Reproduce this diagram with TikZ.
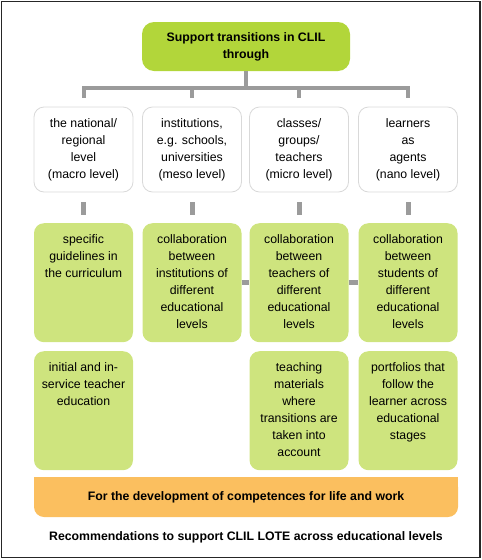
\documentclass[tikz,border=0pt]{standalone}
\usepackage{fontspec}
\setmainfont{Liberation Sans}

\definecolor{headgreen}{RGB}{178,214,58}
\definecolor{itemgreen}{RGB}{206,228,126}
\definecolor{goalorange}{RGB}{251,191,95}
\definecolor{linkgray}{RGB}{155,155,155}
\definecolor{levelborder}{RGB}{217,217,217}

% green boxes: text starts at the top
\newcommand{\toptext}[1]{\parbox[c][119pt][t]{99pt}{\centering\rule{0pt}{20.5pt}#1}}

\tikzset{
  txt/.style={font=\fontsize{12.3}{17}\selectfont},
  headbox/.style={txt, fill=headgreen, rounded corners=12pt, minimum width=208pt, minimum height=49pt, inner sep=0pt, align=center, font=\fontsize{12.3}{17}\selectfont\bfseries},
  levelbox/.style={txt, draw=levelborder, line width=0.8pt, fill=white, rounded corners=10pt, minimum width=99pt, minimum height=85pt, inner sep=0pt, align=center},
  itembox/.style={txt, fill=itemgreen, rounded corners=10pt, inner sep=0pt, anchor=north},
  linkline/.style={draw=linkgray, line width=4pt},
}

\begin{document}
\begin{tikzpicture}[x=1pt, y=-1pt]
            \useasboundingbox (0,0) rectangle (482,560);
            \draw [line width=1.2pt, black!85] (1.5,1.5) rectangle (480,557.5);

            % Heading
            \node[headbox] (head) at (246,46.5) {Support transitions in CLIL\\through};

            % Levels
            \node[levelbox] (macro) at (83.5,149.5) {the national/\\regional\\level\\(macro level)};
            \node[levelbox] (meso) at (192,149.5) {institutions,\\e.g. schools,\\universities\\(meso level)};
            \node[levelbox] (micro) at (299,149.5) {classes/\\groups/\\teachers\\(micro level)};
            \node[levelbox] (nano) at (408,149.5) {learners\\as\\agents\\(nano level)};

            % Recommendations, first row
            \node[itembox] (guide) at (83.5,223) {\toptext{specific\\guidelines in\\the curriculum}};
            \node[itembox] (instcol) at (192,223) {\toptext{collaboration\\between\\institutions of\\different\\educational\\levels}};
            \node[itembox] (teachcol) at (299,223) {\toptext{collaboration\\between\\teachers of\\different\\educational\\levels}};
            \node[itembox] (studcol) at (408,223) {\toptext{collaboration\\between\\students of\\different\\educational\\levels}};

            % Recommendations, second row
            \node[itembox] (training) at (83.5,351) {\toptext{initial and in-\\service teacher\\education}};
            \node[itembox] (materials) at (299,351) {\toptext{teaching\\materials\\where\\transitions are\\taken into\\account}};
            \node[itembox] (portfolio) at (408,351) {\toptext{portfolios that\\follow the\\learner across\\educational\\stages}};

            % Connectors
            \foreach \lev in {macro, meso, micro, nano}
                \draw [linkline, shorten >=9pt] (head.south) -- ++(0,17) -| (\lev.north);
            \draw [linkline, line width=5pt, shorten <=10pt, shorten >=8pt] (macro.south) -- (guide.north);
            \draw [linkline, line width=5pt, shorten <=10pt, shorten >=8pt] (meso.south) -- (instcol.north);
            \draw [linkline, line width=5pt, shorten <=10pt, shorten >=8pt] (micro.south) -- (teachcol.north);
            \draw [linkline, line width=5pt, shorten <=10pt, shorten >=8pt] (nano.south) -- (studcol.north);
            \draw [linkline, line width=5pt] (instcol.east) -- (teachcol.west);
            \draw [linkline, line width=5pt] (teachcol.east) -- (studcol.west);

            % Goal bar
            \node[txt, fill=goalorange, rounded corners=10pt, minimum width=424pt, minimum height=40pt, inner sep=0pt] (goal) at (246,497) {};
            \fill [goalorange] (goal.north west) rectangle (goal.east);
            \node[txt, font=\fontsize{12.3}{17}\selectfont\bfseries] (goaltext) at (goal.center) {For the development of competences for life and work};

            % Caption
            \node[txt, font=\fontsize{12.3}{17}\selectfont\bfseries] (caption) at (246,537) {Recommendations to support CLIL LOTE across educational levels};
        \end{tikzpicture}
\end{document}
